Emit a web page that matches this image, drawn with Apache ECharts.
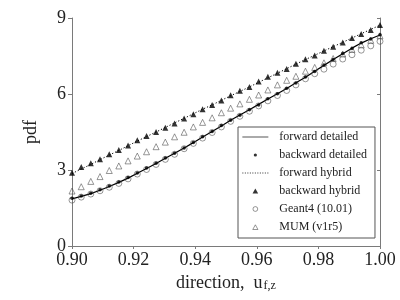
<!DOCTYPE html>
<html>
<head>
<meta charset="utf-8">
<script src="https://cdn.jsdelivr.net/npm/echarts@6/dist/echarts.min.js"></script>
<style>html,body{margin:0;padding:0;background:#fff}#c{width:400px;height:300px}</style>
</head>
<body>
<div id="c"></div>
<script>
var direction = [0.9000,0.9030,0.9061,0.9091,0.9121,0.9152,0.9182,0.9212,0.9242,0.9273,0.9303,0.9333,0.9364,0.9394,0.9424,0.9455,0.9485,0.9515,0.9545,0.9576,0.9606,0.9636,0.9667,0.9697,0.9727,0.9758,0.9788,0.9818,0.9848,0.9879,0.9909,0.9939,0.9970,1.0000];
var forwardDetailed = [1.86,1.96,2.07,2.20,2.35,2.51,2.68,2.87,3.06,3.26,3.46,3.66,3.87,4.08,4.30,4.52,4.74,4.96,5.17,5.38,5.59,5.80,6.01,6.22,6.44,6.66,6.90,7.13,7.36,7.59,7.81,8.01,8.18,8.33];
var backwardDetailed = [1.88,1.97,2.08,2.22,2.37,2.53,2.70,2.88,3.08,3.27,3.47,3.66,3.87,4.09,4.31,4.52,4.76,4.96,5.16,5.38,5.57,5.81,6.01,6.23,6.43,6.67,6.89,7.14,7.36,7.60,7.80,8.02,8.17,8.34];
var forwardHybrid = [2.86,3.04,3.22,3.41,3.59,3.77,3.96,4.14,4.32,4.50,4.68,4.86,5.04,5.22,5.40,5.57,5.75,5.93,6.10,6.28,6.46,6.64,6.82,7.00,7.18,7.36,7.53,7.70,7.87,8.04,8.21,8.38,8.55,8.72];
var backwardHybrid = [2.89,3.12,3.27,3.42,3.62,3.79,3.97,4.17,4.34,4.50,4.67,4.84,5.03,5.20,5.40,5.57,5.74,5.95,6.13,6.28,6.49,6.68,6.84,6.99,7.19,7.37,7.52,7.71,7.87,8.03,8.21,8.37,8.53,8.72];
var geant4 = [1.81,1.93,2.05,2.18,2.32,2.47,2.65,2.84,3.02,3.22,3.42,3.62,3.84,4.05,4.26,4.48,4.70,4.92,5.12,5.32,5.53,5.73,5.94,6.14,6.36,6.60,6.80,6.98,7.18,7.38,7.55,7.73,7.90,8.08];
var mum = [2.17,2.34,2.55,2.74,2.98,3.16,3.36,3.55,3.72,3.92,4.10,4.31,4.49,4.70,4.88,5.06,5.26,5.44,5.61,5.79,5.96,6.16,6.36,6.54,6.70,6.90,7.05,7.23,7.40,7.58,7.76,7.94,8.12,8.30];
var seriesNames = ['forward detailed','backward detailed','forward hybrid','backward hybrid','Geant4 (10.01)','MUM (v1r5)'];
var xTicks = {min:0.9, max:1.0, interval:0.02};
var yTicks = {min:0, max:9, interval:3};

function pairs(ys){ return direction.map(function(x,i){ return [x, ys[i]]; }); }

var FONT = 'Liberation Serif';
var AX = '#7a7a7a';
var TXT = '#222';
var chart = echarts.init(document.getElementById('c'), null, {renderer:'canvas'});

// legend icon paths, bounding box fixed to 26x6 (= itemWidth x itemHeight)
var BOX = 'path://M0,0M26,6';
var iconSolid = BOX + 'M0,2.5H26V3.5H0Z';
var dots = '';
for (var k = 0; k < 11; k++) { var x0 = (k * 2.5).toFixed(2); dots += 'M' + x0 + ',2.5h1v1h-1Z'; }
var iconDotted = BOX + dots;
var iconDot = BOX + 'M11.4,3a1.6,1.6 0 1,0 3.2,0a1.6,1.6 0 1,0 -3.2,0Z';
var iconTri = BOX + 'M10.2,5.6L15.8,5.6L13,0.6Z';
var iconCirc = BOX + 'M10.6,3a2.4,2.4 0 1,0 4.8,0a2.4,2.4 0 1,0 -4.8,0Z';
var iconOTri = BOX + 'M10.4,5.5L15.6,5.5L13,0.8Z';

chart.setOption({
  animation:false,
  backgroundColor:'#fff',
  grid:{left:72,right:20,top:18,bottom:54},
  xAxis:[{
    type:'value', min:xTicks.min, max:xTicks.max, interval:xTicks.interval, position:'bottom',
    axisLine:{lineStyle:{color:AX,width:1}},
    axisTick:{inside:false,length:3,lineStyle:{color:AX}},
    splitLine:{show:false},
    axisLabel:{color:TXT,fontFamily:FONT,fontSize:18,margin:5,formatter:function(v){return v.toFixed(2);}},
    name:'{m|direction,  u}{s|f,z}', nameLocation:'middle', nameGap:26,
    nameTextStyle:{rich:{
      m:{fontFamily:FONT,fontSize:18,color:TXT,verticalAlign:'bottom',lineHeight:20},
      s:{fontFamily:FONT,fontSize:12,color:TXT,verticalAlign:'bottom',lineHeight:14,padding:[0,0,0,1]}
    }}
  },{
    type:'value', min:xTicks.min, max:xTicks.max, interval:xTicks.interval, position:'top',
    axisLine:{lineStyle:{color:AX,width:1}},
    axisTick:{inside:true,length:3,lineStyle:{color:AX}},
    axisLabel:{show:false}, splitLine:{show:false}
  }],
  yAxis:[{
    type:'value', min:yTicks.min, max:yTicks.max, interval:yTicks.interval, position:'left',
    axisLine:{show:true,lineStyle:{color:AX,width:1}},
    axisTick:{show:true,inside:false,length:4,lineStyle:{color:AX}},
    splitLine:{show:false},
    axisLabel:{color:TXT,fontFamily:FONT,fontSize:18,margin:6},
    name:'pdf', nameLocation:'middle', nameGap:32, nameRotate:90,
    nameTextStyle:{fontFamily:FONT,fontSize:18,color:TXT}
  },{
    type:'value', min:yTicks.min, max:yTicks.max, interval:yTicks.interval, position:'right',
    axisLine:{show:true,lineStyle:{color:AX,width:1}},
    axisTick:{show:true,inside:true,length:3,lineStyle:{color:AX}},
    axisLabel:{show:false}, splitLine:{show:false}
  }],
  legend:{
    orient:'vertical', left:238, top:127,
    padding:[3,8,4,4], itemGap:4, itemWidth:26, itemHeight:6,
    backgroundColor:'#fff', borderColor:'#555', borderWidth:1,
    textStyle:{fontFamily:FONT,fontSize:12,color:TXT,lineHeight:14,padding:[0,0,0,6]},
    data:[
      {name:seriesNames[0], icon:iconSolid, itemStyle:{color:'#555',borderWidth:0}},
      {name:seriesNames[1], icon:iconDot, itemStyle:{color:'#000',borderWidth:0}},
      {name:seriesNames[2], icon:iconDotted, itemStyle:{color:'#333',borderWidth:0}},
      {name:seriesNames[3], icon:iconTri, itemStyle:{color:'#000',borderWidth:0}},
      {name:seriesNames[4], icon:iconCirc, itemStyle:{color:'#fff',borderColor:'#444',borderWidth:0.7}},
      {name:seriesNames[5], icon:iconOTri, itemStyle:{color:'#fff',borderColor:'#444',borderWidth:0.7}}
    ],
    selectedMode:false
  },
  series:[
    {name:seriesNames[0], type:'line', data:pairs(forwardDetailed), symbol:'none',
     lineStyle:{color:'#000',width:1.2}, itemStyle:{color:'#000'}, z:3},
    {name:seriesNames[1], type:'scatter', data:pairs(backwardDetailed), symbol:'circle', symbolSize:3.5,
     itemStyle:{color:'#000'}, z:5},
    {name:seriesNames[2], type:'line', data:pairs(forwardHybrid), symbol:'none',
     lineStyle:{color:'#000',width:1,type:[1.2,2]}, itemStyle:{color:'#000'}, z:3},
    {name:seriesNames[3], type:'scatter', data:pairs(backwardHybrid), symbol:'triangle', symbolSize:6,
     itemStyle:{color:'#000'}, z:5},
    {name:seriesNames[4], type:'scatter', data:pairs(geant4), symbol:'circle', symbolSize:6,
     itemStyle:{color:'rgba(255,255,255,0)',borderColor:'#444',borderWidth:0.7}, z:4},
    {name:seriesNames[5], type:'scatter', data:pairs(mum), symbol:'triangle', symbolSize:6,
     itemStyle:{color:'rgba(255,255,255,0)',borderColor:'#444',borderWidth:0.7}, z:4}
  ]
});
</script>
</body>
</html>
